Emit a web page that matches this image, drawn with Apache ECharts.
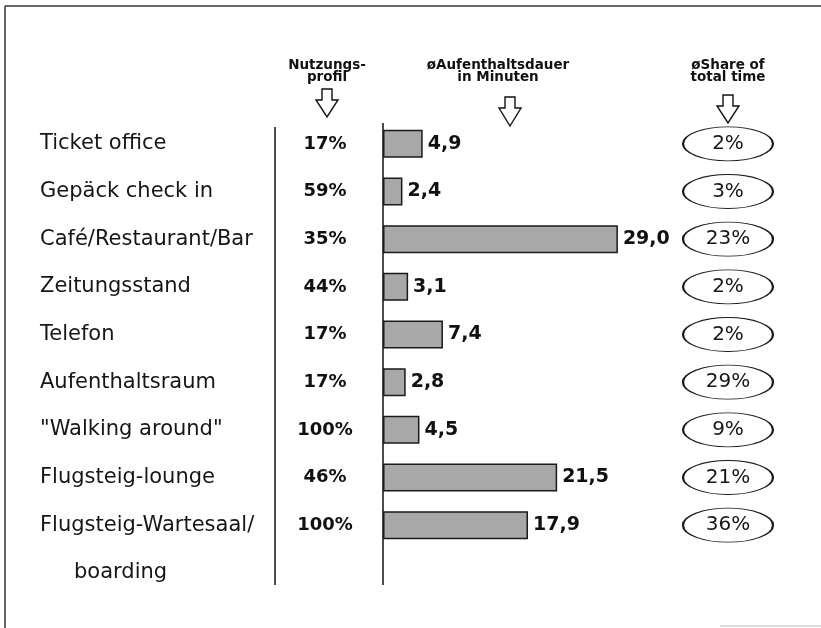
<!DOCTYPE html>
<html>
<head>
<meta charset="utf-8">
<script src="https://cdn.jsdelivr.net/npm/echarts@6/dist/echarts.min.js"></script>
<style>
  html, body { margin: 0; padding: 0; background: #fff; }
  #chart { width: 821px; height: 628px; }
</style>
</head>
<body>
<div id="chart"></div>
<script>
// Kategorien (Aufenthaltsbereiche)
const categories = [
  'Ticket office',
  'Gepäck check in',
  'Café/Restaurant/Bar',
  'Zeitungsstand',
  'Telefon',
  'Aufenthaltsraum',
  '"Walking around"',
  'Flugsteig-lounge',
  'Flugsteig-Wartesaal/\nboarding'
]
// Nutzungsprofil in %
const nutzung = [17, 59, 35, 44, 17, 17, 100, 46, 100]
// øAufenthaltsdauer in Minuten
const dauer = [4.9, 2.4, 29.0, 3.1, 7.4, 2.8, 4.5, 21.5, 17.9]
// øShare of total time in %
const share = [2, 3, 23, 2, 2, 29, 9, 21, 36]

const FONT = 'DejaVu Sans'
const gridTop = 120
const gridHeight = 429

function arrow(cx, top, h) {
  return {
    type: 'polygon',
    shape: {
      points: [[cx - 5, top], [cx + 5, top], [cx + 5, top + 11], [cx + 11, top + 11],
        [cx, top + h], [cx - 11, top + 11], [cx - 5, top + 11]]
    },
    style: { fill: '#fff', stroke: '#111', lineWidth: 1.4 }
  }
}
function vline(x, y1, y2, w, c) {
  return { type: 'line', shape: { x1: x, y1: y1, x2: x, y2: y2 }, style: { stroke: c || '#111', lineWidth: w || 1.5 } }
}
function header(text, x) {
  return {
    type: 'text',
    style: {
      text: text, x: x, y: 59, align: 'center', verticalAlign: 'top',
      fontFamily: FONT, fontWeight: 'bold', fontSize: 13.5, lineHeight: 12, fill: '#111'
    }
  }
}

const chart = echarts.init(document.getElementById('chart'))
chart.setOption({
  backgroundColor: '#fff',
  animation: false,
  grid: [
    { left: 280, width: 90, top: gridTop, height: gridHeight },
    { left: 383, width: 405, top: gridTop, height: gridHeight },
    { left: 683, width: 90, top: gridTop, height: gridHeight }
  ],
  xAxis: [
    { gridIndex: 0, type: 'category', data: ['Nutzungsprofil'], show: false },
    { gridIndex: 1, type: 'value', min: 0, max: 50, show: false },
    { gridIndex: 2, type: 'category', data: ['øShare of total time'], show: false }
  ],
  yAxis: [
    { gridIndex: 0, type: 'category', data: categories, inverse: true, show: false },
    {
      gridIndex: 1,
      type: 'category',
      data: categories,
      inverse: true,
      axisLine: { show: false },
      axisTick: { show: false },
      axisLabel: {
        interval: 0,
        hideOverlap: false,
        align: 'left',
        margin: 343,
        formatter: function(v) {
          const parts = v.split('\n')
          if (parts.length > 1) {
            return '{g| }\n{a|' + parts[0] + '}\n{b|' + parts[1] + '}'
          }
          return '{a|' + v + '}'
        },
        rich: {
          g: { fontSize: 21, lineHeight: 47.6, fontFamily: FONT },
          a: { fontSize: 21, lineHeight: 47.6, fontFamily: FONT, color: '#161616' },
          b: { fontSize: 21, lineHeight: 47.6, fontFamily: FONT, color: '#161616', padding: [0, 0, 0, 34] }
        }
      }
    },
    { gridIndex: 2, type: 'category', data: categories, inverse: true, show: false }
  ],
  series: [
    {
      name: 'Nutzungsprofil',
      type: 'scatter',
      xAxisIndex: 0,
      yAxisIndex: 0,
      symbolSize: 0,
      itemStyle: { opacity: 1 },
      data: categories.map((c, i) => ['Nutzungsprofil', c, nutzung[i]]),
      label: {
        show: true,
        position: 'inside',
        formatter: p => p.value[2] + '%',
        fontFamily: FONT,
        fontWeight: 'bold',
        fontSize: 18,
        color: '#111'
      }
    },
    {
      name: 'øAufenthaltsdauer',
      type: 'bar',
      xAxisIndex: 1,
      yAxisIndex: 1,
      barWidth: 28,
      data: dauer,
      itemStyle: { color: '#a8a8a8', borderColor: '#1a1a1a', borderWidth: 1.5 },
      label: {
        show: true,
        position: 'right',
        distance: 5,
        formatter: p => p.value.toFixed(1).replace('.', ','),
        fontFamily: FONT,
        fontWeight: 'bold',
        fontSize: 19,
        color: '#111'
      }
    },
    {
      name: 'øShare of total time',
      type: 'scatter',
      xAxisIndex: 2,
      yAxisIndex: 2,
      symbol: 'circle',
      symbolSize: [90, 34],
      itemStyle: { color: '#fff', borderColor: '#1a1a1a', borderWidth: 1.4, opacity: 1 },
      data: categories.map((c, i) => ['øShare of total time', c, share[i]]),
      label: {
        show: true,
        position: 'inside',
        formatter: p => p.value[2] + '%',
        fontFamily: FONT,
        fontSize: 20,
        color: '#161616'
      }
    }
  ],
  graphic: [
    { type: 'line', shape: { x1: 5, y1: 6, x2: 821, y2: 6 }, style: { stroke: '#333', lineWidth: 1.5 } },
    vline(5, 6, 628, 1.5, '#333'),
    { type: 'line', shape: { x1: 720, y1: 626, x2: 821, y2: 626 }, style: { stroke: '#bbb', lineWidth: 1 } },
    vline(275, 127, 585),
    vline(383, 123, 585),
    header('Nutzungs-\nprofil', 327),
    header('øAufenthaltsdauer\nin Minuten', 498),
    header('øShare of\ntotal time', 728),
    arrow(327, 89, 28),
    arrow(510, 97, 29),
    arrow(728, 95, 28)
  ]
})
</script>
</body>
</html>
